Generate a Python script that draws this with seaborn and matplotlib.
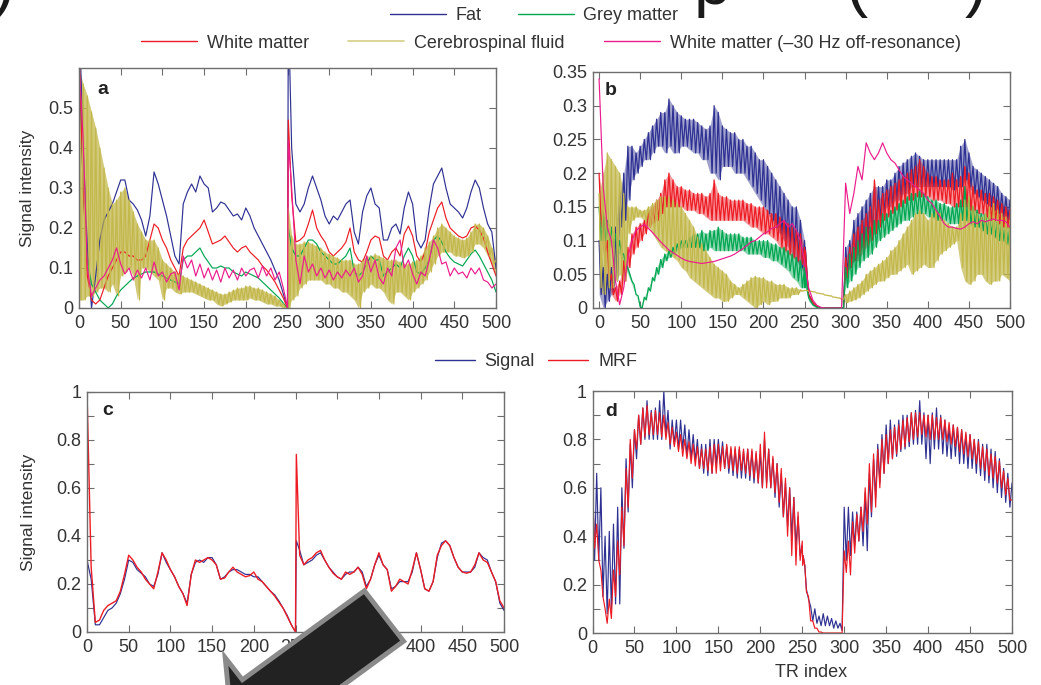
import matplotlib
matplotlib.use("Agg")
import matplotlib.pyplot as plt
from matplotlib.lines import Line2D
from matplotlib.patches import Polygon
import numpy as np
import pandas as pd
import seaborn as sns

sns.set_style("ticks")
plt.rcParams['font.family'] = ['Liberation Sans', 'DejaVu Sans']

# ---------------- data ----------------
TR = list(range(0, 251, 5)) + [251] + list(range(255, 501, 5))

# Panel a
fat_a = [0.75, 0.40, 0.15, 0.00, 0.08, 0.17, 0.22, 0.24, 0.26, 0.29,
         0.32, 0.32, 0.27, 0.26, 0.245, 0.22, 0.18, 0.23, 0.34, 0.31,
         0.27, 0.23, 0.18, 0.13, 0.11, 0.26, 0.29, 0.31, 0.29, 0.33,
         0.31, 0.30, 0.24, 0.25, 0.265, 0.26, 0.245, 0.23, 0.235, 0.22,
         0.25, 0.23, 0.20, 0.18, 0.16, 0.14, 0.12, 0.095, 0.07, 0.035,
         0.0,
         0.75, 0.40, 0.26, 0.24, 0.26, 0.30, 0.33, 0.30, 0.27, 0.23,
         0.21, 0.23, 0.22, 0.24, 0.26, 0.27, 0.19, 0.16, 0.24, 0.28,
         0.30, 0.26, 0.25, 0.17, 0.17, 0.20, 0.21, 0.185, 0.25, 0.29,
         0.26, 0.17, 0.15, 0.17, 0.25, 0.31, 0.33, 0.35, 0.30, 0.26,
         0.25, 0.24, 0.225, 0.25, 0.29, 0.32, 0.30, 0.25, 0.21, 0.19,
         0.10]
grey_a = [0.65, 0.30, 0.12, 0.06, 0.04, 0.02, 0.01, 0.0, 0.01, 0.03,
          0.045, 0.055, 0.065, 0.075, 0.08, 0.085, 0.09, 0.09, 0.09, 0.085,
          0.08, 0.075, 0.07, 0.065, 0.06, 0.12, 0.13, 0.13, 0.14, 0.15,
          0.13, 0.115, 0.10, 0.10, 0.105, 0.10, 0.10, 0.09, 0.085, 0.08,
          0.09, 0.085, 0.08, 0.075, 0.065, 0.055, 0.045, 0.035, 0.025, 0.012,
          0.0,
          0.20, 0.15, 0.13, 0.13, 0.15, 0.17, 0.17, 0.16, 0.14, 0.13,
          0.12, 0.11, 0.11, 0.12, 0.13, 0.15, 0.09, 0.08, 0.09, 0.11,
          0.13, 0.12, 0.12, 0.08, 0.09, 0.10, 0.11, 0.10, 0.13, 0.15,
          0.13, 0.09, 0.085, 0.10, 0.12, 0.17, 0.18, 0.165, 0.14, 0.125,
          0.115, 0.11, 0.105, 0.12, 0.135, 0.145, 0.13, 0.11, 0.09, 0.07,
          0.04]
white_a = [0.65, 0.30, 0.08, 0.02, 0.01, 0.02, 0.05, 0.08, 0.10, 0.12,
           0.14, 0.14, 0.13, 0.13, 0.12, 0.12, 0.13, 0.17, 0.21, 0.20,
           0.17, 0.15, 0.12, 0.10, 0.08, 0.15, 0.17, 0.18, 0.19, 0.20,
           0.22, 0.19, 0.16, 0.165, 0.17, 0.18, 0.165, 0.15, 0.14, 0.15,
           0.155, 0.14, 0.13, 0.12, 0.105, 0.095, 0.08, 0.065, 0.045, 0.025,
           0.0,
           0.47, 0.28, 0.165, 0.17, 0.18, 0.21, 0.245, 0.20, 0.18, 0.165,
           0.14, 0.13, 0.14, 0.15, 0.165, 0.20, 0.14, 0.12, 0.115, 0.14,
           0.17, 0.18, 0.175, 0.13, 0.12, 0.14, 0.15, 0.13, 0.185, 0.205,
           0.18, 0.13, 0.115, 0.14, 0.19, 0.22, 0.25, 0.265, 0.225, 0.20,
           0.19, 0.18, 0.175, 0.18, 0.20, 0.205, 0.195, 0.175, 0.14, 0.11,
           0.08]
csf_a_hi = [0.60, 0.56, 0.53, 0.49, 0.45, 0.40, 0.35, 0.30, 0.26, 0.27,
            0.29, 0.30, 0.27, 0.24, 0.21, 0.19, 0.17, 0.17, 0.17, 0.15,
            0.12, 0.11, 0.10, 0.09, 0.085, 0.08, 0.075, 0.07, 0.065, 0.06,
            0.055, 0.05, 0.045, 0.04, 0.035, 0.035, 0.04, 0.045, 0.05, 0.05,
            0.055, 0.055, 0.05, 0.05, 0.045, 0.04, 0.035, 0.03, 0.02, 0.01,
            0.0,
            0.25, 0.18, 0.16, 0.16, 0.165, 0.165, 0.16, 0.155, 0.15, 0.14,
            0.135, 0.13, 0.125, 0.12, 0.12, 0.12, 0.11, 0.11, 0.12, 0.13,
            0.13, 0.135, 0.13, 0.125, 0.12, 0.12, 0.12, 0.115, 0.11, 0.11,
            0.115, 0.12, 0.13, 0.15, 0.165, 0.18, 0.20, 0.21, 0.20, 0.19,
            0.18, 0.175, 0.17, 0.175, 0.19, 0.21, 0.21, 0.20, 0.18, 0.15,
            0.12]
csf_a_lo = [0.02, 0.02, 0.03, 0.03, 0.04, 0.05, 0.05, 0.04, 0.06, 0.03,
            0.08, 0.09, 0.10, 0.08, 0.02, 0.10, 0.10, 0.09, 0.08, 0.07,
            0.02, 0.05, 0.05, 0.04, 0.035, 0.04, 0.04, 0.04, 0.035, 0.03,
            0.025, 0.02, 0.02, 0.01, 0.005, 0.01, 0.015, 0.02, 0.02, 0.02,
            0.02, 0.025, 0.02, 0.02, 0.015, 0.01, 0.01, 0.005, 0.005, 0.0,
            0.0,
            0.0, 0.02, 0.03, 0.05, 0.06, 0.07, 0.07, 0.07, 0.07, 0.06,
            0.06, 0.05, 0.05, 0.04, 0.04, 0.03, 0.02, 0.0, 0.04, 0.05,
            0.06, 0.05, 0.05, 0.04, 0.02, 0.01, 0.04, 0.04, 0.03, 0.02,
            0.04, 0.05, 0.06, 0.07, 0.09, 0.11, 0.13, 0.14, 0.14, 0.14,
            0.13, 0.13, 0.125, 0.13, 0.14, 0.16, 0.16, 0.15, 0.13, 0.11,
            0.08]
wm30_a = [0.62, 0.42, 0.10, 0.03, 0.05, 0.07, 0.08, 0.10, 0.12, 0.15,
          0.11, 0.085, 0.10, 0.07, 0.095, 0.075, 0.10, 0.07, 0.115, 0.08,
          0.09, 0.065, 0.085, 0.09, 0.045, 0.13, 0.10, 0.12, 0.08, 0.11,
          0.075, 0.10, 0.07, 0.095, 0.065, 0.10, 0.075, 0.095, 0.07, 0.10,
          0.08, 0.095, 0.10, 0.075, 0.105, 0.08, 0.10, 0.07, 0.09, 0.05,
          0.0,
          0.42, 0.30, 0.12, 0.06, 0.13, 0.09, 0.11, 0.08, 0.10, 0.075,
          0.095, 0.07, 0.09, 0.075, 0.095, 0.08, 0.10, 0.065, 0.08, 0.13,
          0.09, 0.12, 0.075, 0.06, 0.10, 0.08, 0.15, 0.17, 0.10, 0.12,
          0.085, 0.06, 0.09, 0.08, 0.12, 0.17, 0.15, 0.11, 0.115, 0.08,
          0.10, 0.085, 0.09, 0.075, 0.10, 0.085, 0.10, 0.07, 0.065, 0.05,
          0.06]

# Panel b
fat_b_hi = [0.10, 0.06, 0.05, 0.06, 0.12, 0.17, 0.20, 0.24, 0.24, 0.23,
            0.24, 0.25, 0.26, 0.27, 0.28, 0.29, 0.29, 0.31, 0.30, 0.29,
            0.285, 0.28, 0.28, 0.28, 0.275, 0.27, 0.265, 0.27, 0.30, 0.29,
            0.27, 0.265, 0.26, 0.26, 0.25, 0.25, 0.24, 0.24, 0.23, 0.22,
            0.22, 0.21, 0.20, 0.19, 0.18, 0.17, 0.16, 0.15, 0.15, 0.13,
            0.10,
            0.09, 0.02, 0.008, 0.002, 0.0, 0.0, 0.0, 0.0, 0.0, 0.0,
            0.09, 0.10, 0.13, 0.14, 0.15, 0.16, 0.17, 0.18, 0.18, 0.18,
            0.19, 0.19, 0.20, 0.21, 0.215, 0.22, 0.225, 0.23, 0.225, 0.22,
            0.22, 0.22, 0.22, 0.22, 0.22, 0.22, 0.22, 0.22, 0.24, 0.25,
            0.23, 0.21, 0.205, 0.20, 0.195, 0.19, 0.185, 0.18, 0.17, 0.165,
            0.16]
fat_b_lo = [0.02, 0.0, 0.01, 0.02, 0.04, 0.12, 0.13, 0.16, 0.19, 0.20,
            0.21, 0.22, 0.22, 0.23, 0.24, 0.24, 0.23, 0.24, 0.23, 0.23,
            0.24, 0.24, 0.235, 0.23, 0.23, 0.22, 0.22, 0.20, 0.20, 0.19,
            0.21, 0.21, 0.21, 0.20, 0.20, 0.20, 0.19, 0.18, 0.17, 0.16,
            0.15, 0.14, 0.13, 0.12, 0.11, 0.10, 0.09, 0.08, 0.07, 0.06,
            0.05,
            0.05, 0.015, 0.005, 0.001, 0.0, 0.0, 0.0, 0.0, 0.0, 0.0,
            0.05, 0.06, 0.07, 0.08, 0.09, 0.10, 0.11, 0.12, 0.13, 0.14,
            0.15, 0.15, 0.16, 0.16, 0.17, 0.17, 0.18, 0.18, 0.18, 0.18,
            0.18, 0.18, 0.18, 0.18, 0.18, 0.18, 0.175, 0.18, 0.18, 0.19,
            0.18, 0.17, 0.165, 0.16, 0.155, 0.15, 0.145, 0.14, 0.135, 0.13,
            0.13]
grey_b_hi = [0.15, 0.14, 0.13, 0.12, 0.11, 0.10, 0.08, 0.06, 0.04, 0.02,
             0.002, 0.016, 0.03, 0.045, 0.06, 0.072, 0.08, 0.085, 0.09, 0.095,
             0.10, 0.10, 0.105, 0.11, 0.11, 0.115, 0.11, 0.115, 0.115, 0.12,
             0.115, 0.11, 0.11, 0.11, 0.11, 0.105, 0.105, 0.105, 0.10, 0.10,
             0.10, 0.10, 0.095, 0.095, 0.09, 0.09, 0.085, 0.08, 0.075, 0.07,
             0.06,
             0.055, 0.015, 0.005, 0.001, 0.0, 0.0, 0.0, 0.0, 0.0, 0.0,
             0.06, 0.08, 0.09, 0.10, 0.11, 0.12, 0.12, 0.13, 0.13, 0.14,
             0.14, 0.145, 0.15, 0.155, 0.16, 0.165, 0.17, 0.17, 0.175, 0.17,
             0.165, 0.16, 0.16, 0.155, 0.155, 0.15, 0.15, 0.155, 0.16, 0.18,
             0.16, 0.15, 0.145, 0.14, 0.14, 0.135, 0.13, 0.13, 0.125, 0.12,
             0.12]
grey_b_lo = [0.10, 0.10, 0.09, 0.09, 0.08, 0.08, 0.065, 0.05, 0.035, 0.018,
             0.0, 0.012, 0.025, 0.04, 0.05, 0.06, 0.07, 0.075, 0.08, 0.085,
             0.09, 0.09, 0.09, 0.09, 0.09, 0.085, 0.085, 0.09, 0.085, 0.085,
             0.085, 0.085, 0.085, 0.085, 0.085, 0.085, 0.08, 0.08, 0.08, 0.08,
             0.075, 0.075, 0.07, 0.07, 0.065, 0.06, 0.055, 0.045, 0.04, 0.03,
             0.03,
             0.03, 0.01, 0.003, 0.0, 0.0, 0.0, 0.0, 0.0, 0.0, 0.0,
             0.03, 0.04, 0.05, 0.06, 0.07, 0.075, 0.08, 0.09, 0.10, 0.105,
             0.11, 0.115, 0.12, 0.125, 0.13, 0.13, 0.135, 0.14, 0.14, 0.14,
             0.135, 0.135, 0.13, 0.13, 0.13, 0.125, 0.125, 0.125, 0.13, 0.13,
             0.125, 0.12, 0.12, 0.115, 0.11, 0.11, 0.105, 0.10, 0.10, 0.095,
             0.09]
white_b_hi = [0.20, 0.15, 0.10, 0.05, 0.03, 0.04, 0.07, 0.09, 0.11, 0.12,
              0.125, 0.13, 0.145, 0.15, 0.16, 0.17, 0.19, 0.20, 0.19, 0.18,
              0.18, 0.175, 0.175, 0.17, 0.17, 0.17, 0.165, 0.17, 0.19, 0.17,
              0.165, 0.165, 0.16, 0.16, 0.16, 0.16, 0.155, 0.155, 0.15, 0.15,
              0.15, 0.145, 0.14, 0.14, 0.135, 0.13, 0.125, 0.12, 0.115, 0.11,
              0.09,
              0.085, 0.02, 0.008, 0.002, 0.0, 0.0, 0.0, 0.0, 0.0, 0.0,
              0.075, 0.09, 0.11, 0.12, 0.13, 0.14, 0.15, 0.19, 0.16, 0.17,
              0.175, 0.18, 0.185, 0.19, 0.195, 0.20, 0.205, 0.21, 0.22, 0.21,
              0.20, 0.195, 0.195, 0.19, 0.19, 0.19, 0.20, 0.19, 0.195, 0.21,
              0.20, 0.18, 0.175, 0.175, 0.17, 0.17, 0.165, 0.16, 0.155, 0.15,
              0.145]
white_b_lo = [0.12, 0.08, 0.04, 0.02, 0.01, 0.02, 0.04, 0.06, 0.08, 0.09,
              0.10, 0.11, 0.12, 0.125, 0.13, 0.14, 0.15, 0.15, 0.15, 0.15,
              0.15, 0.145, 0.145, 0.145, 0.14, 0.14, 0.135, 0.13, 0.13, 0.13,
              0.13, 0.13, 0.13, 0.13, 0.13, 0.13, 0.125, 0.12, 0.12, 0.115,
              0.11, 0.11, 0.105, 0.10, 0.09, 0.085, 0.08, 0.075, 0.07, 0.065,
              0.05,
              0.05, 0.015, 0.005, 0.001, 0.0, 0.0, 0.0, 0.0, 0.0, 0.0,
              0.045, 0.06, 0.07, 0.07, 0.08, 0.09, 0.10, 0.11, 0.12, 0.13,
              0.135, 0.14, 0.145, 0.15, 0.155, 0.16, 0.16, 0.165, 0.165, 0.165,
              0.165, 0.16, 0.16, 0.16, 0.155, 0.155, 0.15, 0.15, 0.15, 0.15,
              0.145, 0.145, 0.14, 0.14, 0.135, 0.13, 0.13, 0.125, 0.12, 0.12,
              0.115]
csf_b_hi = [0.17, 0.20, 0.23, 0.22, 0.21, 0.20, 0.17, 0.15, 0.15, 0.15,
            0.145, 0.145, 0.15, 0.155, 0.16, 0.165, 0.165, 0.165, 0.16, 0.155,
            0.15, 0.14, 0.13, 0.12, 0.105, 0.095, 0.085, 0.075, 0.065, 0.06,
            0.055, 0.05, 0.04, 0.035, 0.03, 0.035, 0.04, 0.045, 0.047, 0.045,
            0.045, 0.04, 0.04, 0.035, 0.035, 0.035, 0.03, 0.03, 0.03, 0.027,
            0.026,
            0.026, 0.025, 0.024, 0.022, 0.021, 0.019, 0.018, 0.016, 0.015, 0.013,
            0.02, 0.025, 0.03, 0.035, 0.04, 0.05, 0.055, 0.06, 0.065, 0.07,
            0.075, 0.085, 0.09, 0.10, 0.11, 0.12, 0.13, 0.14, 0.145, 0.14,
            0.13, 0.14, 0.145, 0.14, 0.13, 0.125, 0.12, 0.12, 0.14, 0.16,
            0.165, 0.15, 0.14, 0.135, 0.14, 0.15, 0.155, 0.145, 0.14, 0.135,
            0.13]
csf_b_lo = [0.03, 0.02, 0.03, 0.03, 0.04, 0.05, 0.04, 0.11, 0.13, 0.135,
            0.135, 0.13, 0.12, 0.11, 0.10, 0.09, 0.085, 0.08, 0.075, 0.07,
            0.06, 0.055, 0.045, 0.04, 0.035, 0.03, 0.025, 0.02, 0.015, 0.015,
            0.01, 0.01, 0.015, 0.02, 0.02, 0.015, 0.01, 0.005, 0.0, 0.005,
            0.01, 0.005, 0.01, 0.01, 0.015, 0.015, 0.015, 0.02, 0.02, 0.025,
            0.026,
            0.026, 0.025, 0.024, 0.022, 0.021, 0.019, 0.018, 0.016, 0.015, 0.013,
            0.008, 0.01, 0.012, 0.015, 0.02, 0.025, 0.03, 0.035, 0.04, 0.04,
            0.045, 0.05, 0.05, 0.055, 0.06, 0.065, 0.05, 0.055, 0.06, 0.065,
            0.06, 0.06, 0.07, 0.08, 0.085, 0.09, 0.095, 0.10, 0.06, 0.04,
            0.035, 0.04, 0.05, 0.05, 0.04, 0.035, 0.04, 0.04, 0.05, 0.045,
            0.04]
wm30_b = [0.34, 0.18, 0.12, 0.10, 0.04, 0.005, 0.03, 0.075, 0.10, 0.115,
          0.12, 0.124, 0.118, 0.112, 0.105, 0.098, 0.092, 0.086, 0.082, 0.078,
          0.074, 0.071, 0.069, 0.068, 0.067, 0.066, 0.067, 0.068, 0.069, 0.071,
          0.073, 0.075, 0.077, 0.08, 0.084, 0.088, 0.093, 0.098, 0.10, 0.105,
          0.11, 0.113, 0.118, 0.12, 0.125, 0.13, 0.12, 0.125, 0.115, 0.10,
          0.07,
          0.06, 0.03, 0.012, 0.004, 0.001, 0.0, 0.0, 0.0, 0.0, 0.0,
          0.185, 0.14, 0.17, 0.21, 0.19, 0.245, 0.23, 0.22, 0.23, 0.245,
          0.23, 0.22, 0.215, 0.205, 0.195, 0.19, 0.185, 0.18, 0.175, 0.17,
          0.16, 0.155, 0.145, 0.135, 0.125, 0.12, 0.12, 0.118, 0.117, 0.12,
          0.125, 0.128, 0.125, 0.13, 0.128, 0.13, 0.132, 0.13, 0.13, 0.128,
          0.12]

# Panel c
signal_c = [0.30, 0.22, 0.03, 0.03, 0.06, 0.09, 0.10, 0.12, 0.16, 0.22,
            0.30, 0.29, 0.26, 0.245, 0.23, 0.20, 0.19, 0.24, 0.33, 0.29,
            0.26, 0.23, 0.19, 0.16, 0.12, 0.24, 0.29, 0.30, 0.29, 0.31,
            0.31, 0.28, 0.22, 0.23, 0.25, 0.26, 0.26, 0.25, 0.24, 0.24,
            0.23, 0.23, 0.21, 0.19, 0.17, 0.155, 0.13, 0.10, 0.07, 0.03,
            0.0,
            0.38, 0.34, 0.28, 0.29, 0.30, 0.32, 0.33, 0.30, 0.27, 0.25,
            0.23, 0.22, 0.24, 0.25, 0.25, 0.27, 0.25, 0.19, 0.22, 0.28,
            0.32, 0.28, 0.26, 0.18, 0.19, 0.21, 0.21, 0.21, 0.25, 0.33,
            0.26, 0.18, 0.17, 0.21, 0.31, 0.37, 0.38, 0.36, 0.31, 0.27,
            0.25, 0.25, 0.25, 0.27, 0.33, 0.31, 0.30, 0.25, 0.21, 0.12,
            0.09]
mrf_c = [1.00, 0.27, 0.04, 0.05, 0.09, 0.11, 0.12, 0.13, 0.17, 0.24,
         0.32, 0.30, 0.27, 0.25, 0.22, 0.20, 0.18, 0.25, 0.33, 0.30,
         0.26, 0.23, 0.19, 0.16, 0.11, 0.24, 0.30, 0.29, 0.30, 0.31,
         0.30, 0.28, 0.22, 0.225, 0.25, 0.27, 0.25, 0.24, 0.23, 0.235,
         0.25, 0.22, 0.21, 0.19, 0.17, 0.15, 0.125, 0.10, 0.065, 0.03,
         0.0,
         0.74, 0.32, 0.28, 0.30, 0.31, 0.33, 0.34, 0.30, 0.27, 0.245,
         0.23, 0.22, 0.25, 0.24, 0.25, 0.27, 0.24, 0.18, 0.22, 0.28,
         0.33, 0.28, 0.26, 0.17, 0.19, 0.22, 0.21, 0.20, 0.26, 0.33,
         0.26, 0.18, 0.17, 0.21, 0.32, 0.36, 0.38, 0.36, 0.31, 0.27,
         0.25, 0.245, 0.25, 0.28, 0.33, 0.30, 0.29, 0.25, 0.21, 0.13,
         0.10]

# Panel d
signal_d_hi = [0.68, 0.66, 0.60, 0.40, 0.42, 0.45, 0.52, 0.60, 0.72, 0.78,
               0.84, 0.90, 0.93, 0.96, 0.92, 0.93, 0.96, 1.00, 0.92, 0.88,
               0.88, 0.88, 0.86, 0.84, 0.82, 0.80, 0.78, 0.78, 0.80, 0.80,
               0.80, 0.79, 0.77, 0.76, 0.76, 0.76, 0.75, 0.76, 0.75, 0.74,
               0.74, 0.80, 0.76, 0.72, 0.70, 0.66, 0.62, 0.60, 0.56, 0.48,
               0.36,
               0.32, 0.18, 0.11, 0.10, 0.07, 0.08, 0.07, 0.06, 0.05, 0.04,
               0.52, 0.52, 0.50, 0.50, 0.52, 0.58, 0.66, 0.72, 0.78, 0.82,
               0.86, 0.88, 0.86, 0.88, 0.90, 0.90, 0.91, 0.92, 0.96, 0.91,
               0.90, 0.91, 0.93, 0.90, 0.88, 0.85, 0.86, 0.85, 0.84, 0.82,
               0.82, 0.80, 0.80, 0.78, 0.78, 0.76, 0.75, 0.72, 0.68, 0.66,
               0.62]
signal_d_lo = [0.30, 0.30, 0.15, 0.08, 0.10, 0.12, 0.12, 0.35, 0.50, 0.60,
               0.72, 0.78, 0.80, 0.80, 0.80, 0.80, 0.80, 0.82, 0.76, 0.78,
               0.76, 0.76, 0.73, 0.72, 0.71, 0.68, 0.66, 0.65, 0.66, 0.70,
               0.70, 0.68, 0.66, 0.65, 0.64, 0.64, 0.64, 0.63, 0.62, 0.62,
               0.60, 0.62, 0.60, 0.56, 0.52, 0.48, 0.44, 0.40, 0.36, 0.32,
               0.30,
               0.28, 0.14, 0.05, 0.04, 0.03, 0.03, 0.03, 0.02, 0.02, 0.01,
               0.30, 0.32, 0.36, 0.38, 0.36, 0.34, 0.48, 0.56, 0.62, 0.66,
               0.70, 0.72, 0.73, 0.75, 0.76, 0.77, 0.78, 0.78, 0.78, 0.72,
               0.70, 0.76, 0.76, 0.74, 0.73, 0.72, 0.73, 0.70, 0.70, 0.68,
               0.68, 0.66, 0.65, 0.63, 0.62, 0.60, 0.58, 0.56, 0.54, 0.52,
               0.50]
mrf_d_hi = [0.60, 0.45, 0.26, 0.10, 0.14, 0.26, 0.38, 0.52, 0.68, 0.80,
            0.84, 0.90, 0.93, 0.94, 0.91, 0.92, 0.91, 0.90, 0.87, 0.85,
            0.83, 0.82, 0.80, 0.79, 0.78, 0.77, 0.76, 0.76, 0.77, 0.78,
            0.78, 0.77, 0.78, 0.77, 0.77, 0.77, 0.76, 0.76, 0.76, 0.75,
            0.78, 0.83, 0.76, 0.73, 0.70, 0.68, 0.64, 0.60, 0.56, 0.50,
            0.38,
            0.32, 0.17, 0.05, 0.02, 0.004, 0.0, 0.0, 0.0, 0.0, 0.0,
            0.34, 0.38, 0.46, 0.49, 0.52, 0.60, 0.70, 0.74, 0.76, 0.80,
            0.82, 0.84, 0.85, 0.86, 0.88, 0.89, 0.91, 0.91, 0.91, 0.90,
            0.90, 0.90, 0.89, 0.89, 0.88, 0.87, 0.86, 0.85, 0.84, 0.83,
            0.82, 0.80, 0.79, 0.77, 0.76, 0.74, 0.73, 0.71, 0.67, 0.64,
            0.55]
mrf_d_lo = [0.35, 0.30, 0.15, 0.04, 0.06, 0.15, 0.24, 0.36, 0.52, 0.64,
            0.76, 0.78, 0.81, 0.82, 0.82, 0.82, 0.81, 0.80, 0.78, 0.77,
            0.75, 0.73, 0.72, 0.70, 0.69, 0.68, 0.68, 0.67, 0.66, 0.66,
            0.67, 0.68, 0.68, 0.67, 0.66, 0.67, 0.66, 0.65, 0.64, 0.62,
            0.60, 0.60, 0.60, 0.58, 0.54, 0.48, 0.40, 0.32, 0.28, 0.30,
            0.28,
            0.28, 0.15, 0.05, 0.02, 0.004, 0.0, 0.0, 0.0, 0.0, 0.0,
            0.25, 0.24, 0.33, 0.38, 0.42, 0.45, 0.50, 0.52, 0.60, 0.66,
            0.70, 0.72, 0.74, 0.76, 0.77, 0.79, 0.80, 0.81, 0.82, 0.81,
            0.80, 0.80, 0.80, 0.80, 0.79, 0.78, 0.77, 0.75, 0.74, 0.73,
            0.72, 0.70, 0.68, 0.67, 0.65, 0.64, 0.62, 0.60, 0.57, 0.55,
            0.48]

_named = dict(fat_a=fat_a, grey_a=grey_a, white_a=white_a, csf_a_hi=csf_a_hi,
              csf_a_lo=csf_a_lo, wm30_a=wm30_a, fat_b_hi=fat_b_hi, fat_b_lo=fat_b_lo,
              grey_b_hi=grey_b_hi, grey_b_lo=grey_b_lo, white_b_hi=white_b_hi,
              white_b_lo=white_b_lo, csf_b_hi=csf_b_hi, csf_b_lo=csf_b_lo,
              wm30_b=wm30_b, signal_c=signal_c, mrf_c=mrf_c,
              signal_d_hi=signal_d_hi, signal_d_lo=signal_d_lo,
              mrf_d_hi=mrf_d_hi, mrf_d_lo=mrf_d_lo)
for k, v in _named.items():
    assert len(v) == len(TR), (k, len(v), len(TR))

# ---------------- style ----------------
C_FAT = "#2E3192"
C_GREY = "#00A651"
C_WHITE = "#ED1C24"
C_CSF = "#C3B84C"
C_WM30 = "#EC1C8C"
TXT = "#333333"
SPINE = "#6E6E6E"

W, H = 1041, 685
fig = plt.figure(figsize=(W / 100, H / 100), dpi=100)


def px_axes(l, t, r, b):
    return fig.add_axes([l / W, 1 - b / H, (r - l) / W, (b - t) / H])


def draw_line(ax, vals, color, lw=0.85):
    df = pd.DataFrame({"TR": TR, "v": vals})
    sns.lineplot(data=df, x="TR", y="v", ax=ax, color=color, lw=lw,
                 estimator=None, sort=False, legend=False)


def draw_band(ax, hi, lo, color, lw=0.8, fill_alpha=0.0):
    xs, ys = [], []
    for i in range(len(TR)):
        xs.append(TR[i]); ys.append(hi[i])
        if i < len(TR) - 1:
            xs.append((TR[i] + TR[i + 1]) / 2); ys.append(lo[i])
    if fill_alpha > 0:
        ax.fill_between(TR, lo, hi, color=color, alpha=fill_alpha, lw=0)
    df = pd.DataFrame({"TR": xs, "v": ys})
    sns.lineplot(data=df, x="TR", y="v", ax=ax, color=color, lw=lw,
                 estimator=None, sort=False, legend=False)


def style_axes(ax, xlim, ylim, yticks, yminor=None):
    ax.set_xlim(*xlim)
    ax.set_ylim(*ylim)
    ax.set_xticks(list(range(0, 501, 50)))
    ax.set_xticklabels([str(t) for t in range(0, 501, 50)])
    ax.set_yticks(yticks)
    ax.set_yticklabels(["{:g}".format(t) for t in yticks])
    if yminor is not None:
        ax.set_yticks(yminor, minor=True)
    ax.tick_params(which="both", direction="in", top=True, right=True,
                   length=5, width=0.8, color=SPINE, labelsize=13,
                   labelcolor=TXT)
    ax.tick_params(axis="x", pad=5)
    ax.tick_params(axis="y", pad=4)
    for s in ax.spines.values():
        s.set_visible(True)
        s.set_color(SPINE)
        s.set_linewidth(1.0)
    ax.set_xlabel("")
    ax.set_ylabel("")


# ---------------- panel a ----------------
ax_a = px_axes(79, 68, 496, 308)
draw_line(ax_a, fat_a, C_FAT)
draw_line(ax_a, grey_a, C_GREY)
draw_line(ax_a, white_a, C_WHITE)
draw_band(ax_a, csf_a_hi, csf_a_lo, C_CSF, lw=0.9, fill_alpha=0.75)
draw_line(ax_a, wm30_a, C_WM30)
style_axes(ax_a, (0, 500), (0, 0.6), [0, 0.1, 0.2, 0.3, 0.4, 0.5])
ax_a.set_ylabel("Signal intensity", fontsize=12.5, color=TXT)
ax_a.yaxis.set_label_coords(-0.105, 0.5)
ax_a.text(0.043, 0.892, "a", transform=ax_a.transAxes, fontsize=14,
          fontweight="bold", color="#222222", va="baseline")

# ---------------- panel b ----------------
ax_b = px_axes(592.5, 72, 1010, 308)
draw_band(ax_b, fat_b_hi, fat_b_lo, C_FAT, lw=0.9, fill_alpha=0.45)
draw_band(ax_b, white_b_hi, white_b_lo, C_WHITE, lw=0.9, fill_alpha=0.45)
draw_band(ax_b, grey_b_hi, grey_b_lo, C_GREY, lw=0.9, fill_alpha=0.45)
draw_band(ax_b, csf_b_hi, csf_b_lo, C_CSF, lw=0.9, fill_alpha=0.7)
draw_line(ax_b, wm30_b, C_WM30)
style_axes(ax_b, (-8, 500), (0, 0.35),
           [0, 0.05, 0.1, 0.15, 0.2, 0.25, 0.3, 0.35])
ax_b.text(0.030, 0.9025, "b", transform=ax_b.transAxes, fontsize=14,
          fontweight="bold", color="#222222", va="baseline")

# ---------------- panel c ----------------
ax_c = px_axes(87, 392, 504, 632)
draw_line(ax_c, signal_c, C_FAT)
draw_line(ax_c, mrf_c, C_WHITE, lw=1.0)
style_axes(ax_c, (0, 500), (0, 1), [0, 0.2, 0.4, 0.6, 0.8, 1.0],
           yminor=[0.1, 0.3, 0.5, 0.7, 0.9])
ax_c.set_ylabel("Signal intensity", fontsize=12.5, color=TXT)
ax_c.yaxis.set_label_coords(-0.122, 0.5)
ax_c.set_xlabel("TR index", fontsize=13, color=TXT)
ax_c.xaxis.set_label_coords(0.52, -0.128)
ax_c.text(0.036, 0.904, "c", transform=ax_c.transAxes, fontsize=14,
          fontweight="bold", color="#222222", va="baseline")

# ---------------- panel d ----------------
ax_d = px_axes(592.5, 391, 1012, 633)
draw_band(ax_d, signal_d_hi, signal_d_lo, C_FAT, lw=0.85)
draw_band(ax_d, mrf_d_hi, mrf_d_lo, C_WHITE, lw=0.85)
style_axes(ax_d, (0, 500), (0, 1), [0, 0.2, 0.4, 0.6, 0.8, 1.0],
           yminor=[0.1, 0.3, 0.5, 0.7, 0.9])
ax_d.set_xlabel("TR index", fontsize=13, color=TXT)
ax_d.xaxis.set_label_coords(0.52, -0.128)
ax_d.text(0.030, 0.897, "d", transform=ax_d.transAxes, fontsize=14,
          fontweight="bold", color="#222222", va="baseline")

# ---------------- legends ----------------
leg_kw = dict(loc="center", frameon=False, fontsize=13,
              handletextpad=0.55, labelcolor=TXT)
h1 = [Line2D([], [], color=C_FAT, lw=1), Line2D([], [], color=C_GREY, lw=1)]
fig.legend(h1, ["Fat", "Grey matter"], ncol=2, columnspacing=2.0,
           handlelength=3.1, bbox_to_anchor=(534 / W, 1 - 16 / H), **leg_kw)
h2 = [Line2D([], [], color=C_WHITE, lw=1), Line2D([], [], color="#D6CE86", lw=1.2),
      Line2D([], [], color=C_WM30, lw=1)]
fig.legend(h2, ["White matter", "Cerebrospinal fluid",
                "White matter (\u201330 Hz off-resonance)"], ncol=3,
           columnspacing=2.2, handlelength=3.1,
           bbox_to_anchor=(551 / W, 1 - 43 / H), **leg_kw)
h3 = [Line2D([], [], color=C_FAT, lw=1), Line2D([], [], color=C_WHITE, lw=1)]
fig.legend(h3, ["Signal", "MRF"], ncol=2, columnspacing=0.75,
           handlelength=2.2, bbox_to_anchor=(536 / W, 1 - 362 / H), **leg_kw)

# ---------------- cropped heading fragments at top ----------------
for ch, xp in [(")", -7), ("p", 694), ("(", 846), (")", 965)]:
    fig.text(xp / W, 1 - 4 / H, ch, fontsize=48, color="#1a1a1a",
             ha="left", va="baseline", family=["Liberation Sans", "DejaVu Sans"])

# ---------------- overlay arrow ----------------
arrow_px = [(364.4, 590.8), (403.6, 641.2), (281.6, 730.2), (298.8, 752.3),
            (232.0, 728.0), (225.2, 657.7), (242.4, 679.8)]
arrow = Polygon([(x / W, 1 - y / H) for x, y in arrow_px], closed=True,
                transform=fig.transFigure, facecolor="#222222",
                edgecolor="#8A8A8A", linewidth=3.5, joinstyle="miter", zorder=50)
fig.add_artist(arrow)

fig.savefig("out.png", dpi=100)
